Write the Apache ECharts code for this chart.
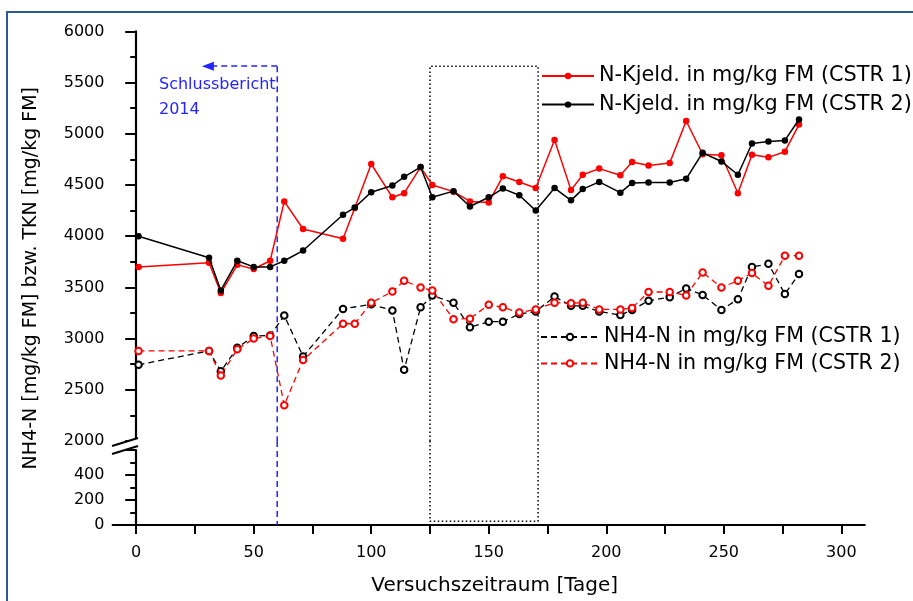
<!DOCTYPE html>
<html>
<head>
<meta charset="utf-8">
<script src="https://cdn.jsdelivr.net/npm/echarts@6/dist/echarts.min.js"></script>
<style>html,body{margin:0;padding:0;background:#fff;}#c{width:913px;height:601px;}</style>
</head>
<body>
<div id="c"></div>
<script>
// ---- data ----
const daysTKN = [1,31,36,43,50,57,63,71,88,93,100,109,114,121,126,135,142,150,156,163,170,178,185,190,197,206,211,218,227,234,241,249,256,262,269,276,282];
const tknCSTR1 = [3700,3740,3445,3720,3680,3760,4340,4070,3975,4275,4705,4380,4420,4675,4500,4435,4340,4330,4585,4530,4470,4940,4450,4600,4660,4595,4725,4690,4715,5125,4800,4790,4420,4795,4770,4825,5090];
const tknCSTR2 = [4000,3790,3470,3760,3700,3700,3760,3860,4210,4280,4430,4495,4580,4675,4380,4440,4290,4380,4465,4400,4250,4470,4350,4460,4530,4425,4520,4525,4525,4560,4815,4730,4600,4905,4925,4935,5140];
const daysNH4_1 = [1,31,36,43,50,57,63,71,88,100,109,114,121,126,135,142,150,156,163,170,178,185,190,197,206,211,218,227,234,241,249,256,262,269,276,282];
const nh4CSTR1 = [2745,2880,2680,2910,3025,3030,3225,2825,3290,3335,3275,2695,3305,3420,3350,3110,3165,3165,3240,3265,3410,3320,3320,3265,3230,3280,3370,3405,3490,3425,3280,3385,3700,3730,3435,3630];
const daysNH4_2 = daysTKN;
const nh4CSTR2 = [2880,2880,2640,2895,3000,3025,2350,2790,3145,3145,3350,3460,3565,3500,3470,3190,3195,3330,3305,3255,3285,3350,3345,3350,3285,3285,3300,3455,3455,3420,3645,3500,3565,3640,3515,3810,3810];

const seriesNames = ['N-Kjeld. in mg/kg FM (CSTR 1)','N-Kjeld. in mg/kg FM (CSTR 2)','NH4-N in mg/kg FM (CSTR 1)','NH4-N in mg/kg FM (CSTR 2)'];
const xTitle = 'Versuchszeitraum [Tage]';
const yTitle = 'NH4-N [mg/kg FM] bzw. TKN [mg/kg FM]';
const noteText = 'Schlussbericht\n2014';

// annotations (values in axis units)
const reportDay = 60, arrowEndDay = 30.5, annotTop = 5660;
const windowDays = [125, 171];
const windowBottomLower = 30;   // lower-axis units
const upperMin = 2000, upperMax = 6000;
const lowerMin = 0, lowerMax = 600;
const bridgeLower = 672;        // lower-axis value at the upper grid's bottom edge

// ---- layout ----
const X0 = 136.2, PX = 2.3503;          // px of day 0, px per day
const px = d => X0 + d * PX;
const rightEdge = px(310);
const upperTop = 31.4, upperBottom = 441;
const axisBottom = 525, lowerTop = axisBottom - (lowerMax - lowerMin) * 0.125;

const FONT = 'DejaVu Sans';
const zip = (xs, ys) => xs.map((x, i) => [x, ys[i]]);

const chart = echarts.init(document.getElementById('c'), null, {renderer: 'canvas'});

const axisLineStyle = {color: '#000', width: 2.2};
const tickStyle = {color: '#000', width: 2};
const option = {
  backgroundColor: '#fff',
  animation: false,
  textStyle: {fontFamily: FONT, color: '#000'},
  grid: [
    {left: px(-5), width: rightEdge - px(-5), top: upperTop, height: upperBottom - upperTop},
    {left: px(-10), width: rightEdge - px(-10), top: lowerTop, height: axisBottom - lowerTop},
    {left: px(0), width: px(300) - px(0), top: lowerTop, height: axisBottom - lowerTop},
    {left: px(-5), width: rightEdge - px(-5), top: upperTop, height: axisBottom - upperTop}
  ],
  xAxis: [
    {gridIndex: 0, type: 'value', min: -5, max: 310, show: false},
    {gridIndex: 1, type: 'value', min: -10, max: 310,
      axisLine: {show: true, lineStyle: axisLineStyle}, axisTick: {show: false}, axisLabel: {show: false}, splitLine: {show: false},
      name: xTitle, nameLocation: 'middle', nameGap: 51,
      nameTextStyle: {fontFamily: FONT, fontSize: 20, color: '#000', padding: [0, 0, 0, 12]}},
    {gridIndex: 2, type: 'value', min: 0, max: 300, interval: 25,
      axisLine: {show: false}, splitLine: {show: false},
      axisTick: {show: true, inside: false, length: 9, lineStyle: tickStyle},
      axisLabel: {show: true, margin: 20, fontFamily: FONT, fontSize: 16, color: '#000',
        formatter: v => (v % 50 === 0 ? String(v) : '')}},
    {gridIndex: 3, type: 'value', min: -5, max: 310, show: false}
  ],
  yAxis: [
    {gridIndex: 0, type: 'value', min: upperMin, max: upperMax, interval: 500,
      axisLine: {show: true, lineStyle: axisLineStyle}, splitLine: {show: false},
      axisTick: {show: true, inside: false, length: 11, lineStyle: tickStyle},
      minorTick: {show: true, splitNumber: 2, length: 6, lineStyle: tickStyle},
      axisLabel: {margin: 20, fontFamily: FONT, fontSize: 16, color: '#000', formatter: v => String(v)}},
    {gridIndex: 1, type: 'value', min: lowerMin, max: lowerMax, interval: 200, offset: -(px(-5) - px(-10)),
      axisLine: {show: true, lineStyle: axisLineStyle}, splitLine: {show: false},
      axisTick: {show: true, inside: false, length: 11, lineStyle: tickStyle},
      minorTick: {show: true, splitNumber: 2, length: 6, lineStyle: tickStyle},
      axisLabel: {margin: 20, fontFamily: FONT, fontSize: 16, color: '#000',
        formatter: v => (v === lowerMax ? '' : String(v))}},
    {gridIndex: 2, type: 'value', min: lowerMin, max: lowerMax, show: false},
    {gridIndex: 3, type: 'value', min: 0, max: 1,
      axisLine: {show: false}, axisTick: {show: false}, axisLabel: {show: false}, splitLine: {show: false},
      name: yTitle, nameLocation: 'middle', nameGap: 84, nameRotate: 90,
      nameTextStyle: {fontFamily: FONT, fontSize: 19, color: '#000'}}
  ],
  legend: [
    {data: seriesNames.slice(0, 2), orient: 'vertical', left: 541, top: 65.5, padding: 0,
      itemWidth: 52, itemHeight: 8, itemGap: 7.6,
      textStyle: {fontFamily: FONT, fontSize: 20.8, color: '#000'}},
    {data: seriesNames.slice(2, 4), orient: 'vertical', left: 540, top: 326.5, padding: 0,
      itemWidth: 58, itemHeight: 8, itemGap: 5.4,
      textStyle: {fontFamily: FONT, fontSize: 20.6, color: '#000'}}
  ],
  series: [
    {name: seriesNames[0], type: 'line', xAxisIndex: 0, yAxisIndex: 0, data: zip(daysTKN, tknCSTR1),
      symbol: 'circle', symbolSize: 6.5, color: '#ff0000', itemStyle: {color: '#ff0000'},
      lineStyle: {color: '#ff0000', width: 1.5}, z: 3},
    {name: seriesNames[1], type: 'line', xAxisIndex: 0, yAxisIndex: 0, data: zip(daysTKN, tknCSTR2),
      symbol: 'circle', symbolSize: 6.5, color: '#000', itemStyle: {color: '#000'},
      lineStyle: {color: '#000', width: 1.5}, z: 4},
    {name: seriesNames[2], type: 'line', xAxisIndex: 0, yAxisIndex: 0, data: zip(daysNH4_1, nh4CSTR1),
      symbol: 'emptyCircle', symbolSize: 6.5, color: '#000', itemStyle: {color: '#000', borderWidth: 1},
      lineStyle: {color: '#000', width: 1.3, type: [6, 4]}, z: 3},
    {name: seriesNames[3], type: 'line', xAxisIndex: 0, yAxisIndex: 0, data: zip(daysNH4_2, nh4CSTR2),
      symbol: 'emptyCircle', symbolSize: 6.5, color: '#ff0000', itemStyle: {color: '#ff0000', borderWidth: 1},
      lineStyle: {color: '#ff0000', width: 1.3, type: [6, 4]}, z: 4},
    // dotted window (upper + lower part)
    {name: 'win_u', type: 'line', xAxisIndex: 0, yAxisIndex: 0, silent: true, clip: false, symbol: 'none',
      data: [[windowDays[0], upperMin], [windowDays[0], annotTop], [windowDays[1], annotTop], [windowDays[1], upperMin]],
      lineStyle: {color: '#000', width: 1.5, type: [1.5, 2.5]}, z: 2},
    {name: 'win_l', type: 'line', xAxisIndex: 1, yAxisIndex: 1, silent: true, clip: false, symbol: 'none',
      data: [[windowDays[0], bridgeLower], [windowDays[0], windowBottomLower], [windowDays[1], windowBottomLower], [windowDays[1], bridgeLower]],
      lineStyle: {color: '#000', width: 1.5, type: [1.5, 2.5]}, z: 2},
    // blue report line + arrow
    {name: 'rep_u', type: 'line', xAxisIndex: 0, yAxisIndex: 0, silent: true, clip: false, symbol: 'none',
      data: [[reportDay, annotTop], [reportDay, upperMin]],
      lineStyle: {color: '#2424ff', width: 1.5, type: [6, 4]}, z: 2,
      markLine: {silent: true, symbol: ['none', 'triangle'], symbolSize: [9, 12],
        label: {show: false}, lineStyle: {color: '#2424ff', width: 1.5, type: [6, 4]},
        emphasis: {disabled: true}, animation: false,
        data: [[{coord: [reportDay, annotTop]}, {coord: [arrowEndDay, annotTop]}]]}},
    {name: 'rep_l', type: 'line', xAxisIndex: 1, yAxisIndex: 1, silent: true, clip: false, symbol: 'none',
      data: [[reportDay, bridgeLower], [reportDay, lowerMin]],
      lineStyle: {color: '#2424ff', width: 1.5, type: [6, 4]}, z: 2}
  ],
  graphic: [
    {type: 'rect', shape: {x: 7, y: 12, width: 930, height: 620}, style: {fill: 'none', stroke: '#2e5a9a', lineWidth: 2}, silent: true},
    {type: 'text', left: 159, top: 72, style: {text: noteText, fill: '#2424ff', font: '16px "DejaVu Sans"', lineHeight: 25}, silent: true},
    {type: 'polygon', shape: {points: [[112, 446], [138, 438], [138, 446], [112, 454]]}, style: {fill: '#fff'}, z: 100, silent: true},
    {type: 'line', shape: {x1: 112, y1: 446, x2: 138, y2: 438}, style: {stroke: '#000', lineWidth: 2}, z: 101, silent: true},
    {type: 'line', shape: {x1: 112, y1: 454, x2: 138, y2: 446}, style: {stroke: '#000', lineWidth: 2}, z: 101, silent: true}
  ]
};
chart.setOption(option);
</script>
</body>
</html>
